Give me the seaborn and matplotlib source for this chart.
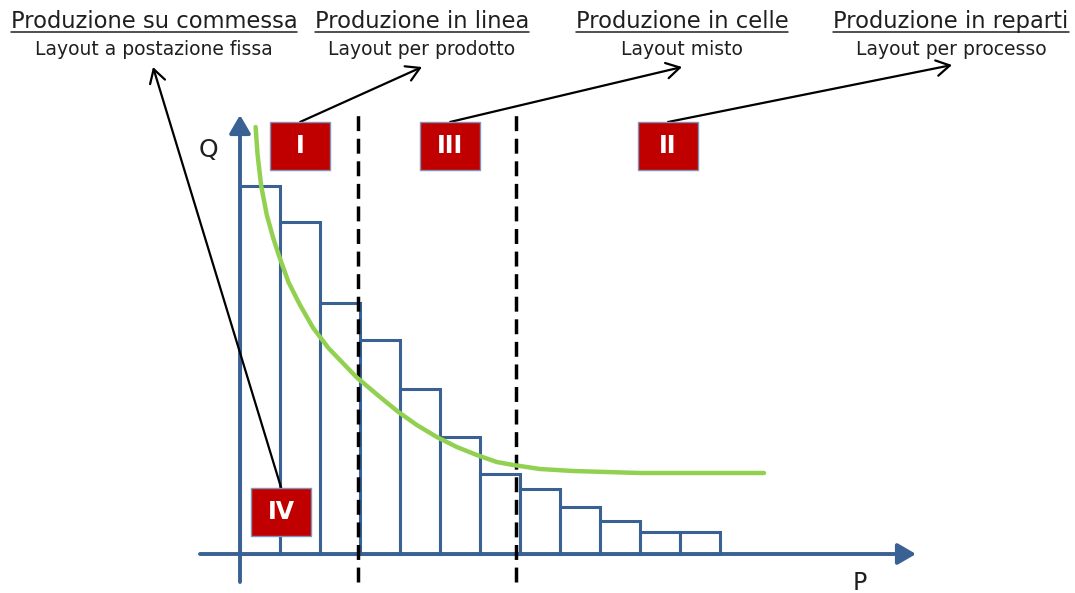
import numpy as np
import pandas as pd
import matplotlib
matplotlib.use('Agg')
import matplotlib.pyplot as plt
import seaborn as sns
from matplotlib.patches import Rectangle

# product classes (P) and quantities (Q)
p_mid = [0.5, 1.5, 2.5, 3.5, 4.5, 5.5, 6.5, 7.5, 8.5, 9.5, 10.5, 11.5]
q_vals = [36.8, 33.2, 25.1, 21.4, 16.5, 11.7, 8.0, 6.5, 4.7, 3.3, 2.2, 2.2]

# green curve
curve_p = [0.39, 0.44, 0.53, 0.67, 0.83, 0.96, 1.21, 1.5, 1.83, 2.21, 2.63, 2.92,
           3.5, 3.96, 4.42, 4.92, 5.42, 5.92, 6.42, 6.83, 7.5, 8.33, 10.0, 13.1]
curve_q = [42.7, 39.9, 36.8, 33.9, 31.6, 30.0, 27.2, 24.9, 22.6, 20.6, 18.85, 17.65,
           15.7, 14.2, 12.9, 11.7, 10.7, 9.9, 9.2, 8.9, 8.5, 8.3, 8.1, 8.1]

# boundaries between production zones
zone_bounds = [2.95, 6.9]

headers = ['Produzione su commessa', 'Produzione in linea',
           'Produzione in celle', 'Produzione in reparti']
subheaders = ['Layout a postazione fissa', 'Layout per prodotto',
              'Layout misto', 'Layout per processo']
box_labels = ['IV', 'I', 'III', 'II']

BLUE = '#3A6194'
GREEN = '#92D050'
RED = '#C00000'
TXT = '#1f1f1f'

sns.set_style('white')
plt.rcParams['font.family'] = ['DejaVu Sans']

fig = plt.figure(figsize=(10.75, 5.93), dpi=100)
ax = fig.add_axes([0, 0, 1, 1])

df = pd.DataFrame({'P': p_mid, 'Q': q_vals})
sns.barplot(data=df, x='P', y='Q', native_scale=True, width=1,
            color='white', edgecolor=BLUE, linewidth=2.2, ax=ax, zorder=2)

# axes drawn as arrows
arrow_style = '-|>,head_length=0.55,head_width=0.32'
ax.annotate('', xy=(0, 43.9), xytext=(0, -2.8),
            arrowprops=dict(arrowstyle=arrow_style, mutation_scale=20,
                            color=BLUE, lw=2.8, shrinkA=0, shrinkB=0), zorder=3)
ax.annotate('', xy=(16.9, 0), xytext=(-1.0, 0),
            arrowprops=dict(arrowstyle=arrow_style, mutation_scale=20,
                            color=BLUE, lw=2.8, shrinkA=0, shrinkB=0), zorder=3)
ax.text(-0.8, 40.4, 'Q', fontsize=18, color=TXT, ha='center', va='center')
ax.text(15.5, -2.9, 'P', fontsize=17, color=TXT, ha='center', va='center')

# zone boundaries
for xb in zone_bounds:
    ax.plot([xb, xb], [-2.8, 43.9], color='black', lw=2.5,
            linestyle=(0, (4.3, 2.2)), zorder=4)

sns.lineplot(x=curve_p, y=curve_q, color=GREEN, lw=3.2, sort=False,
             ax=ax, zorder=5)

# red boxes and their arrows
box_centers = [(1.03, 4.2), (1.5, 40.8), (5.25, 40.8), (10.7, 40.8)]
arrow_tips = [(-2.175, 48.7), (4.55, 48.7), (11.05, 48.7), (17.8, 48.9)]
bw, bh = 1.5, 4.8
for lab, (cx, cy), tip in zip(box_labels, box_centers, arrow_tips):
    ax.annotate('', xy=tip, xytext=(cx, cy + bh / 2),
                arrowprops=dict(arrowstyle='->,head_length=0.6,head_width=0.35',
                                mutation_scale=16, color='black', lw=1.6,
                                shrinkA=0, shrinkB=0), zorder=6)
    ax.add_patch(Rectangle((cx - bw / 2, cy - bh / 2), bw, bh,
                           facecolor=RED, edgecolor='#8093B8', lw=1, zorder=7))
    ax.text(cx, cy, lab, color='white', fontsize=17, fontweight='bold',
            ha='center', va='center', zorder=8)

# titles at the top
head_x = [-2.15, 4.55, 11.05, 17.775]
head_texts = []
for hx, h, s in zip(head_x, headers, subheaders):
    t = ax.text(hx, 52.6, h, fontsize=16.3, color=TXT, ha='center', va='baseline')
    head_texts.append(t)
    ax.text(hx, 49.9, s, fontsize=13.5, color=TXT, ha='center', va='baseline')

ax.set_xlim(-6, 20.875)
ax.set_ylim(-3.9, 55.4)
ax.axis('off')
legend = ax.get_legend()
if legend is not None:
    legend.remove()

# underline the headers
fig.canvas.draw()
renderer = fig.canvas.get_renderer()
inv = ax.transData.inverted()
for t in head_texts:
    bb = t.get_window_extent(renderer)
    (x0, _), (x1, _) = inv.transform([(bb.x0, bb.y0), (bb.x1, bb.y1)])
    ax.plot([x0, x1], [52.2, 52.2], color=TXT, lw=1.1)

fig.savefig('out.png', dpi=100)
